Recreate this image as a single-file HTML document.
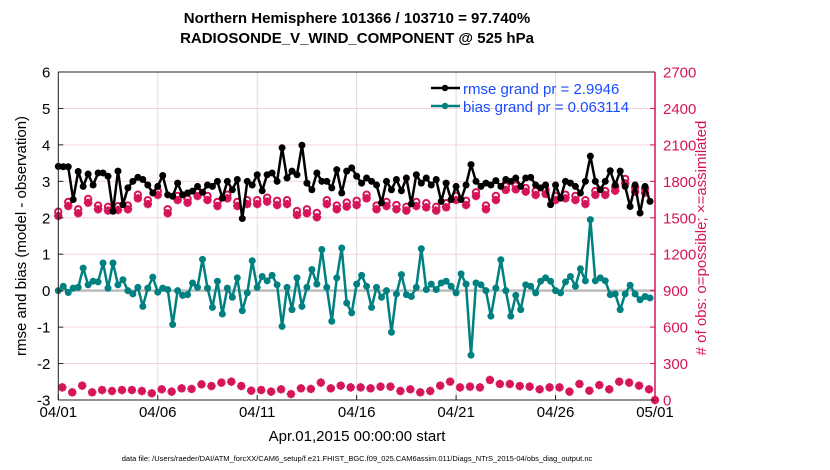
<!DOCTYPE html>
<html><head><meta charset="utf-8">
<style>
body{margin:0;background:#fff;}
svg{display:block;font-family:"Liberation Sans",Arial,sans-serif;}
</style></head>
<body>
<svg id="chart" width="830" height="470" viewBox="0 0 830 470">
<text x="357" y="23" text-anchor="middle" font-size="15" font-weight="bold">Northern Hemisphere 101366 / 103710 = 97.740%</text>
<text x="357" y="43" text-anchor="middle" font-size="15" font-weight="bold">RADIOSONDE_V_WIND_COMPONENT @ 525 hPa</text>
<g id="grid"></g>
<g id="series"></g>
<g id="axes"></g>
<text transform="translate(26,236) rotate(-90)" text-anchor="middle" font-size="15">rmse and bias (model - observation)</text>
<text transform="translate(706,238) rotate(-90)" text-anchor="middle" font-size="15" fill="#d6145a"># of obs: o=possible; ×=assimilated</text>
<text x="357" y="441" text-anchor="middle" font-size="15">Apr.01,2015 00:00:00 start</text>
<text x="357" y="461" text-anchor="middle" font-size="7.5">data file: /Users/raeder/DAI/ATM_forcXX/CAM6_setup/f.e21.FHIST_BGC.f09_025.CAM6assim.011/Diags_NTrS_2015-04/obs_diag_output.nc</text>
<g>
  <line x1="431" y1="88" x2="460" y2="88" stroke="#000" stroke-width="2.5"/>
  <circle cx="445" cy="88" r="3.2" fill="#000"/>
  <text x="463" y="94" font-size="15" fill="#1a4cff">rmse grand pr = 2.9946</text>
  <line x1="431" y1="106" x2="460" y2="106" stroke="#008080" stroke-width="2.5"/>
  <circle cx="445" cy="106" r="3.2" fill="#008080"/>
  <text x="463" y="112" font-size="15" fill="#1a4cff">bias grand pr = 0.063114</text>
</g>
</svg>
<script>
const rmse = [3.41,3.40,3.40,2.50,3.27,2.86,3.20,2.90,3.23,3.23,3.14,2.18,3.28,2.36,2.82,3.00,3.11,3.05,2.90,2.68,2.86,3.16,2.63,2.59,2.95,2.63,2.68,2.73,2.86,2.70,
2.90,2.86,3.00,2.54,3.00,2.77,3.05,1.98,3.00,2.90,3.18,2.74,3.18,3.23,3.00,3.92,3.09,3.28,3.18,3.99,2.95,2.77,3.23,3.00,3.00,2.82,3.32,2.68,3.28,3.37,
3.14,2.95,3.09,3.00,2.90,2.41,3.00,2.77,3.05,2.74,3.09,2.38,3.18,2.95,3.09,2.90,3.05,2.45,2.95,2.50,2.86,2.50,2.90,3.46,3.00,2.86,2.95,2.90,3.02,2.86,
3.05,3.00,3.09,2.86,3.09,3.11,2.90,2.82,2.90,2.36,2.90,2.54,3.00,2.95,2.86,2.68,3.00,3.69,3.00,2.77,3.00,3.29,2.90,3.28,2.86,2.31,2.90,2.13,2.86,2.45];
const bias = [0.00,0.12,-0.05,0.07,0.09,0.62,0.16,0.26,0.24,0.76,0.07,0.76,0.16,0.30,0.00,-0.09,0.09,-0.43,0.07,0.37,-0.04,0.07,0.03,-0.93,0.00,-0.13,-0.11,0.21,0.09,0.86,
0.07,-0.46,0.26,-0.64,0.07,-0.18,0.35,-0.55,-0.06,0.82,0.09,0.39,0.27,0.42,0.16,-0.98,0.09,-0.52,0.35,-0.43,0.09,0.58,0.18,1.13,0.09,-0.84,0.35,1.17,-0.34,-0.61,
0.18,0.42,0.12,-0.46,0.09,-0.18,0.00,-1.14,-0.09,0.44,-0.11,-0.16,0.09,1.15,0.03,0.18,0.03,0.21,0.26,0.12,-0.06,0.46,0.18,-1.77,0.21,0.16,0.00,-0.70,0.07,0.85,
0.00,-0.70,-0.13,-0.52,0.16,0.12,-0.06,0.26,0.35,0.26,0.00,-0.06,0.24,0.39,0.12,0.60,0.27,1.95,0.27,0.35,0.27,-0.11,-0.09,-0.52,-0.09,0.15,-0.09,-0.25,-0.16,-0.20];
const obsAssim = [1515,1597,1537,1624,1570,1559,1564,1570,1660,1613,1688,1537,1646,1624,1679,1646,1597,1660,1597,1613,1613,1633,1605,1613,1523,1537,1504,1613,1570,1592,
1605,1660,1570,1597,1570,1559,1597,1586,1559,1586,1646,1605,1679,1570,1646,1729,1734,1715,1688,1696,1646,1660,1646,1613,1688,1688,1723,1784,1715,1707];
const obsPoss = [1550,1630,1570,1655,1600,1590,1595,1600,1690,1645,1720,1570,1680,1655,1710,1680,1630,1690,1630,1645,1645,1665,1640,1645,1555,1570,1540,1645,1600,1625,
1640,1690,1600,1630,1605,1590,1630,1620,1590,1620,1680,1640,1710,1600,1680,1760,1765,1745,1720,1730,1680,1690,1680,1645,1720,1720,1755,1820,1750,1740];
const obsBottom = [104,63,118,63,82,74,82,82,74,55,88,69,96,91,129,115,143,151,115,77,82,69,88,49,96,91,143,96,118,104,
104,96,110,110,74,88,63,74,118,151,104,110,104,165,132,132,115,110,88,104,104,69,132,77,123,88,151,143,118,88,0];
const xTickLabels = ["04/01","04/06","04/11","04/16","04/21","04/26","05/01"];
const xTickDays = [0,5,10,15,20,25,30];
const yTicks = [-3,-2,-1,0,1,2,3,4,5,6];
const rTicks = [0,300,600,900,1200,1500,1800,2100,2400,2700];

const L=58.3,R=655,T=72,B=400;
const xDay = d => L + d*(R-L)/30;
const yL = v => B - (v+3)*(B-T)/9;
const yR = n => B - n*(B-T)/2700;
const NS="http://www.w3.org/2000/svg";
function mk(tag,attrs,parent){const e=document.createElementNS(NS,tag);for(const k in attrs)e.setAttribute(k,attrs[k]);parent.appendChild(e);return e;}
const grid=document.getElementById('grid'),axes=document.getElementById('axes'),ser=document.getElementById('series');
mk('rect',{x:L,y:T,width:R-L,height:B-T,fill:'#fff'},grid);
yTicks.forEach(v=>{
  const g=mk('line',{x1:L,x2:R,y1:yL(v),y2:yL(v),stroke:'#f6d4e2','stroke-width':1},grid);
  
  
  const t=mk('text',{x:L-8,y:yL(v)+5.5,'text-anchor':'end','font-size':15},axes);t.textContent=v;
  
  
  mk('line',{x1:L,x2:L+5,y1:yL(v),y2:yL(v),stroke:'#222'},axes);
});
xTickDays.forEach((d,i)=>{
  const g=mk('line',{x1:xDay(d),x2:xDay(d),y1:T,y2:B,stroke:'#ddd','stroke-width':1},grid);
  
  
  mk('line',{x1:xDay(d),x2:xDay(d),y1:B,y2:B-5,stroke:'#222'},axes);
  const t=mk('text',{x:xDay(d),y:417,'text-anchor':'middle','font-size':15},axes);t.textContent=xTickLabels[i];
  
  
});
rTicks.forEach(n=>{
  mk('line',{x1:R,x2:R-5,y1:yR(n),y2:yR(n),stroke:'#d6145a'},axes);
  const t=mk('text',{x:R+8,y:yR(n)+5.5,'font-size':15,fill:'#d6145a'},axes);t.textContent=n;
  
  
});
mk('line',{x1:L,x2:L,y1:T,y2:B,stroke:'#222','stroke-width':1},axes);
mk('line',{x1:L,x2:R,y1:B,y2:B,stroke:'#222','stroke-width':1},axes);
mk('line',{x1:L,x2:R,y1:T,y2:T,stroke:'#222','stroke-width':1},axes);
mk('line',{x1:R,x2:R,y1:T,y2:B,stroke:'#d6145a','stroke-width':1.5},axes);
const z=mk('line',{x1:L,x2:R,y1:yL(0),y2:yL(0),stroke:'#bbb','stroke-width':2.5},ser);



function star(x,y,p,col){
  const s=4.2;
  mk('path',{d:`M${x-s},${y}H${x+s}M${x},${y-s}V${y+s}M${x-s*0.7},${y-s*0.7}L${x+s*0.7},${y+s*0.7}M${x-s*0.7},${y+s*0.7}L${x+s*0.7},${y-s*0.7}`,stroke:col,'stroke-width':2.6,fill:'none'},p);
}
const obsG=mk('g',{},ser);


obsPoss.forEach((n,i)=>{
  const x=xDay(i*0.5);
  star(x,yR(obsAssim[i]),obsG,'#d6145a');
  const c=mk('circle',{cx:x,cy:yR(n),r:3.2,fill:'none',stroke:'#d6145a','stroke-width':2},obsG);
  
  
});
obsBottom.forEach((n,i)=>{
  const d = i<60 ? 0.2+i*0.5 : 30;
  const x=xDay(d);
  const c=mk('circle',{cx:x,cy:yR(n),r:3.2,fill:'#d6145a'},obsG);
  
  
  star(x,yR(n),obsG,'#d6145a');
});
function line(vals,col,name){
  const g=mk('g',{},ser);
  
  
  const pts=vals.map((v,i)=>xDay(i*0.25).toFixed(1)+','+yL(v).toFixed(1)).join(' ');
  mk('polyline',{points:pts,fill:'none',stroke:col,'stroke-width':2.5,'stroke-linejoin':'round'},g);
  vals.forEach((v,i)=>{
    const c=mk('circle',{cx:xDay(i*0.25),cy:yL(v),r:3.5,fill:col},g);
    
    
  });
}
line(bias,'#008080','bias-series');
line(rmse,'#000','rmse-series');
</script>
</body></html>
